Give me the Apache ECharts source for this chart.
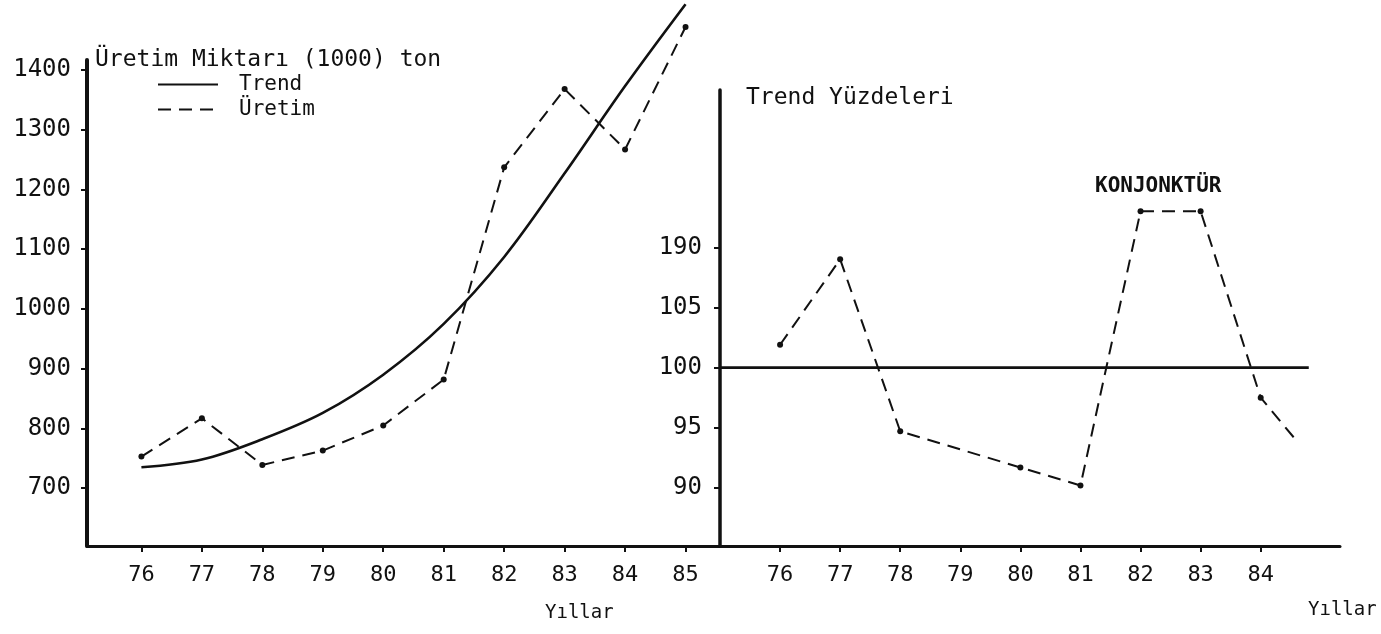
<!DOCTYPE html>
<html>
<head>
<meta charset="utf-8">
<script src="https://cdn.jsdelivr.net/npm/echarts@6/dist/echarts.min.js"></script>
<style>
html,body{margin:0;padding:0;background:#fff;}
#chart{width:1381px;height:634px;}
</style>
</head>
<body>
<div id="chart"></div>
<script>
// ---- Left panel: production (1000 t) ----
const leftYears = [76, 77, 78, 79, 80, 81, 82, 83, 84, 85];
const leftYearLabels = ['76', '77', '78', '79', '80', '81', '82', '83', '84', '85'];
const uretim = [753, 817, 739, 763, 805, 882, 1237, 1368, 1267, 1472];
const trend = [735, 748, 782, 826, 890, 975, 1087, 1227, 1373, 1510];
const leftYTicks = [700, 800, 900, 1000, 1100, 1200, 1300, 1400];
const leftYTickLabels = ['700', '800', '900', '1000', '1100', '1200', '1300', '1400'];

// ---- Right panel: trend percentages ----
const rightYears = [76, 77, 78, 79, 80, 81, 82, 83, 84];
const rightYearLabels = ['76', '77', '78', '79', '80', '81', '82', '83', '84'];
const konjYears = [76, 77, 78, 80, 81, 82, 83, 84];
const konjValues = [101.9, 109.0, 94.7, 91.7, 90.2, 113.0, 113.0, 97.5];
const konjTailYear = 84.6;
const konjTailValue = 93.9;
const rightYTicks = [90, 95, 100, 105, 110];
const rightYTickLabels = ['90', '95', '100', '105', '190'];
const baseValue = 100;
const baseYears = [75, 84.8];

const FONT = "'DejaVu Sans Mono', 'Liberation Mono', monospace";
const chart = echarts.init(document.getElementById('chart'));

const uretimData = leftYears.map((y, i) => [y, uretim[i]]);
const trendData = leftYears.map((y, i) => [y, trend[i]]);
const konjData = konjYears.map((y, i) => [y, konjValues[i]]);
konjData.push({ value: [konjTailYear, konjTailValue], symbol: 'none' });
const baseData = baseYears.map(y => [y, baseValue]);

const axisLabelStyle = { color: '#111', fontFamily: FONT, fontSize: 22 };

chart.setOption({
  backgroundColor: '#fff',
  animation: false,
  grid: [
    { left: 87, right: 661, top: 60, bottom: 88 },
    { left: 720, right: 41, top: 90, bottom: 88 }
  ],
  legend: {
    orient: 'vertical',
    left: 152,
    top: 69,
    itemWidth: 60,
    itemHeight: 14,
    itemGap: 4,
    textStyle: { color: '#111', fontFamily: FONT, fontSize: 21, padding: [0, 0, 0, 16] },
    data: [
      { name: 'Trend', itemStyle: { opacity: 0 } },
      { name: 'Üretim', itemStyle: { opacity: 0 } }
    ]
  },
  xAxis: [
    {
      type: 'value', gridIndex: 0, min: 75.1, max: 85.57,
      splitLine: { show: false },
      axisLine: { lineStyle: { color: '#111', width: 3 } },
      axisTick: { customValues: leftYears, length: 6, lineStyle: { color: '#111', width: 2 } },
      axisLabel: Object.assign({
        customValues: leftYears, margin: 18,
        formatter: v => leftYearLabels[leftYears.indexOf(v)] || ''
      }, axisLabelStyle)
    },
    {
      type: 'value', gridIndex: 1, min: 75, max: 85.32,
      splitLine: { show: false },
      axisLine: { lineStyle: { color: '#111', width: 3 } },
      axisTick: { customValues: rightYears, length: 6, lineStyle: { color: '#111', width: 2 } },
      axisLabel: Object.assign({
        customValues: rightYears, margin: 18,
        formatter: v => rightYearLabels[rightYears.indexOf(v)] || ''
      }, axisLabelStyle)
    }
  ],
  yAxis: [
    {
      type: 'value', gridIndex: 0, min: 603.3, max: 1416.7,
      name: 'Üretim Miktarı (1000) ton',
      nameLocation: 'end', nameGap: 0,
      nameTextStyle: { color: '#111', fontFamily: FONT, fontSize: 23, align: 'left', verticalAlign: 'middle', padding: [0, 0, 0, 8] },
      splitLine: { show: false },
      axisLine: { show: true, lineStyle: { color: '#111', width: 4 } },
      axisTick: { show: true, customValues: leftYTicks, length: 6, lineStyle: { color: '#111', width: 2 } },
      axisLabel: Object.assign({
        customValues: leftYTicks, margin: 16,
        formatter: v => leftYTickLabels[leftYTicks.indexOf(v)] || ''
      }, axisLabelStyle, { fontSize: 24 })
    },
    {
      type: 'value', gridIndex: 1, min: 85.17, max: 123.08,
      name: 'Trend Yüzdeleri',
      nameLocation: 'end', nameGap: -8,
      nameTextStyle: { color: '#111', fontFamily: FONT, fontSize: 23, align: 'left', verticalAlign: 'middle', padding: [0, 0, 0, 26] },
      splitLine: { show: false },
      axisLine: { show: true, lineStyle: { color: '#111', width: 3.5 } },
      axisTick: { show: true, customValues: rightYTicks, length: 6, lineStyle: { color: '#111', width: 2 } },
      axisLabel: Object.assign({
        customValues: rightYTicks, margin: 18,
        formatter: v => rightYTickLabels[rightYTicks.indexOf(v)] || ''
      }, axisLabelStyle, { fontSize: 24 })
    }
  ],
  graphic: [
    { type: 'text', left: 1095, top: 176, style: { text: 'KONJONKTÜR', fill: '#111', font: "bold 21px 'DejaVu Sans Mono', monospace" } },
    { type: 'text', left: 545, top: 604, style: { text: 'Yıllar', fill: '#111', font: "19px 'DejaVu Sans Mono', monospace" } },
    { type: 'text', left: 1308, top: 601, style: { text: 'Yıllar', fill: '#111', font: "19px 'DejaVu Sans Mono', monospace" } }
  ],
  series: [
    {
      name: 'Trend', type: 'line', xAxisIndex: 0, yAxisIndex: 0,
      data: trendData, smooth: 0.35, symbol: 'none', clip: false,
      lineStyle: { color: '#111', width: 2.6, type: 'solid' }
    },
    {
      name: 'Üretim', type: 'line', xAxisIndex: 0, yAxisIndex: 0,
      data: uretimData, symbol: 'circle', symbolSize: 6, clip: false,
      itemStyle: { color: '#111' },
      lineStyle: { color: '#111', width: 2, type: [13, 8] }
    },
    {
      name: 'Konjonktür', type: 'line', xAxisIndex: 1, yAxisIndex: 1,
      data: konjData, symbol: 'circle', symbolSize: 6, clip: false,
      itemStyle: { color: '#111' },
      lineStyle: { color: '#111', width: 2, type: [13, 8] }
    },
    {
      name: 'Baz', type: 'line', xAxisIndex: 1, yAxisIndex: 1,
      data: baseData, symbol: 'none',
      lineStyle: { color: '#111', width: 2.6, type: 'solid' }
    }
  ]
});
</script>
</body>
</html>
